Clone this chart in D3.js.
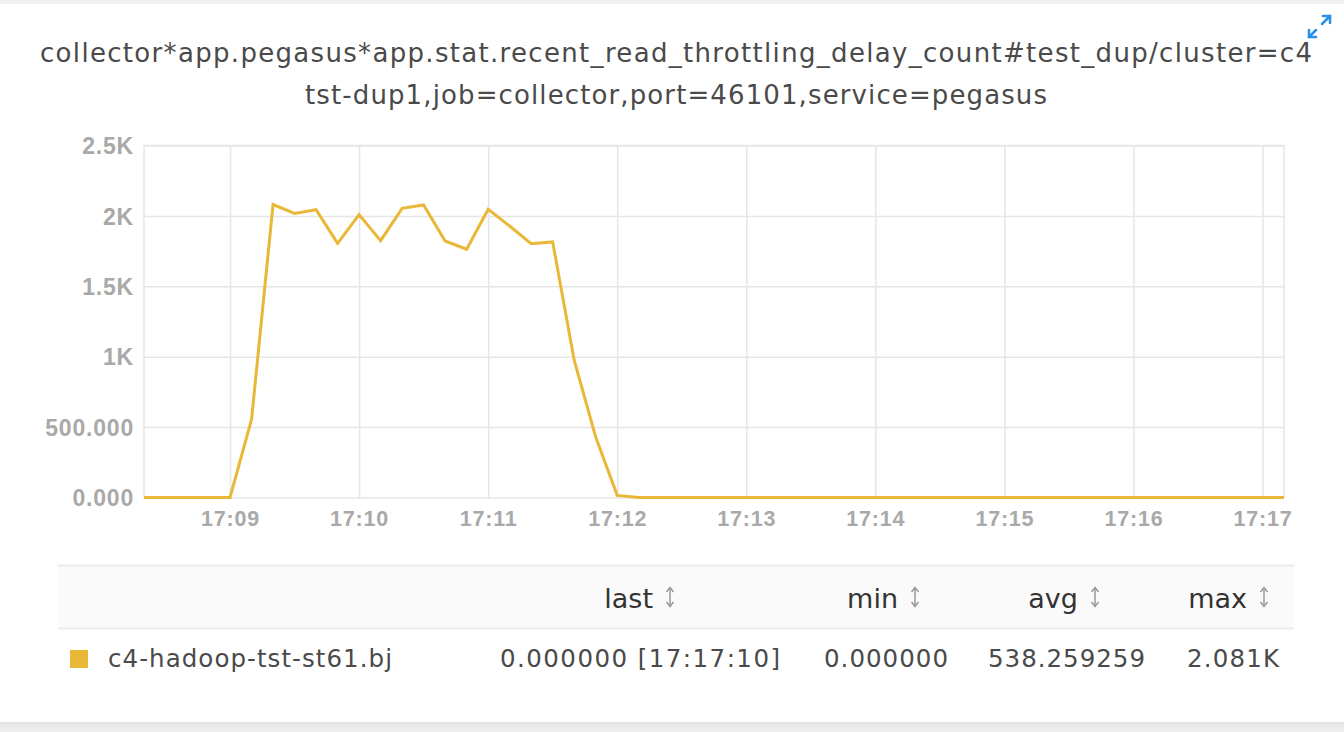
<!DOCTYPE html>
<html>
<head>
<meta charset="utf-8">
<script src="https://cdn.jsdelivr.net/npm/d3@7"></script>
<style>
  html, body { margin: 0; padding: 0; background: #f1f1f1; }
  svg { display: block; }
</style>
</head>
<body>
<svg id="chart" width="1344" height="732"></svg>
<script>
// Title lines
const titleLines = [
  'collector*app.pegasus*app.stat.recent_read_throttling_delay_count#test_dup/cluster=c4',
  'tst-dup1,job=collector,port=46101,service=pegasus'
];

// Series: one sample every 10 s, starting 17:08:20
const seriesName = 'c4-hadoop-tst-st61.bj';
const startTime = new Date(2018, 0, 1, 17, 8, 20);
const stepSeconds = 10;
const values = [
  0, 0, 0, 0, 0, 555, 2081, 2018, 2044, 1805,
  2009, 1824, 2054, 2078, 1822, 1763, 2047, 1928, 1803, 1815,
  975, 430, 15, 0, 0, 0, 0, 0, 0, 0,
  0, 0, 0, 0, 0, 0, 0, 0, 0, 0,
  0, 0, 0, 0, 0, 0, 0, 0, 0, 0,
  0, 0, 0, 0
];

// Y axis ticks and labels
const yTicks = [0, 500, 1000, 1500, 2000, 2500];
const yTickLabels = ['0.000', '500.000', '1K', '1.5K', '2K', '2.5K'];

// Legend table
const legendColumns = ['last', 'min', 'avg', 'max'];
const legendValues = ['0.000000 [17:17:10]', '0.000000', '538.259259', '2.081K'];

const lineColor = '#eab839';

const svg = d3.select('#chart');

// card background
svg.append('rect')
  .attr('x', 0).attr('y', 4)
  .attr('width', 1344).attr('height', 718)
  .attr('fill', '#fff');

const defs = svg.append('defs');
const grad = defs.append('linearGradient')
  .attr('id', 'shadow').attr('x1', 0).attr('y1', 0).attr('x2', 0).attr('y2', 1);
grad.append('stop').attr('offset', '0%').attr('stop-color', '#e4e4e4');
grad.append('stop').attr('offset', '100%').attr('stop-color', '#f1f1f1');
svg.append('rect')
  .attr('x', 0).attr('y', 722)
  .attr('width', 1344).attr('height', 10)
  .attr('fill', 'url(#shadow)');

// Title
svg.append('g')
  .selectAll('text')
  .data(titleLines)
  .join('text')
  .attr('x', 676)
  .attr('y', (d, i) => 62 + i * 42)
  .attr('text-anchor', 'middle')
  .attr('font-family', 'DejaVu Sans, Verdana, sans-serif')
  .attr('font-size', 26)
  .attr('fill', '#4a4a4a')
  .attr('textLength', (d, i) => i === 0 ? 1272 : 742)
  .text(d => d);

// Expand icon (top right)
const icon = svg.append('g')
  .attr('stroke', '#2b8fe8')
  .attr('stroke-width', 2.5)
  .attr('fill', 'none')
  .attr('stroke-linecap', 'round');
icon.append('line').attr('x1', 1309).attr('y1', 37).attr('x2', 1316).attr('y2', 30);
icon.append('line').attr('x1', 1322).attr('y1', 24).attr('x2', 1330).attr('y2', 16);
icon.append('path').attr('d', 'M1309,30 L1309,37 L1316,37');
icon.append('path').attr('d', 'M1323,16 L1330,16 L1330,23');

// Plot scales
const margin = { left: 144, right: 1284, top: 145.5, bottom: 497.5 };
const times = values.map((v, i) => new Date(startTime.getTime() + i * stepSeconds * 1000));

const x = d3.scaleTime()
  .domain([times[0], times[times.length - 1]])
  .range([margin.left, margin.right]);

const y = d3.scaleLinear()
  .domain([0, 2500])
  .range([margin.bottom, margin.top]);

const gridColor = '#e6e6e6';

// Horizontal grid + y labels
const yAxis = d3.axisLeft(y)
  .tickValues(yTicks)
  .tickSize(-(margin.right - margin.left))
  .tickPadding(10)
  .tickFormat((d, i) => yTickLabels[i]);

const gy = svg.append('g')
  .attr('transform', `translate(${margin.left},0)`)
  .call(yAxis);
gy.select('.domain').remove();
gy.selectAll('.tick line').attr('stroke', gridColor).attr('stroke-width', 1.5);
gy.selectAll('.tick text')
  .attr('font-family', 'Liberation Sans, Arial, sans-serif')
  .attr('font-weight', 'bold')
  .attr('font-size', 23)
  .attr('letter-spacing', 0.8)
  .attr('fill', '#a9a9a9')
  .attr('dy', '0.36em');

// Vertical grid + x labels
const xAxis = d3.axisBottom(x)
  .ticks(d3.timeMinute.every(1))
  .tickSize(-(margin.bottom - margin.top))
  .tickPadding(22)
  .tickFormat(d3.timeFormat('%H:%M'));

const gx = svg.append('g')
  .attr('transform', `translate(0,${margin.bottom})`)
  .call(xAxis);
gx.select('.domain').remove();
gx.selectAll('.tick line').attr('stroke', gridColor).attr('stroke-width', 1.5);
gx.selectAll('.tick text')
  .attr('font-family', 'Liberation Sans, Arial, sans-serif')
  .attr('font-weight', 'bold')
  .attr('font-size', 21.5)
  .attr('letter-spacing', 0.8)
  .attr('fill', '#a9a9a9')
  .attr('dy', '0.3em');

// Plot frame (left, top, right)
svg.append('path')
  .attr('d', `M${margin.left},${margin.bottom} V${margin.top} H${margin.right} V${margin.bottom}`)
  .attr('fill', 'none')
  .attr('stroke', gridColor)
  .attr('stroke-width', 1.5);

// Series line
const line = d3.line()
  .x((d, i) => x(times[i]))
  .y(d => y(d));

svg.append('path')
  .datum(values)
  .attr('d', line)
  .attr('fill', 'none')
  .attr('stroke', lineColor)
  .attr('stroke-width', 3)
  .attr('stroke-linejoin', 'miter');

// Legend table header
const header = svg.append('g');
header.append('rect')
  .attr('x', 58).attr('y', 565)
  .attr('width', 1236).attr('height', 63)
  .attr('fill', '#fafafa');
header.append('line')
  .attr('x1', 58).attr('x2', 1294).attr('y1', 565.5).attr('y2', 565.5)
  .attr('stroke', '#ececec').attr('stroke-width', 2);
header.append('line')
  .attr('x1', 58).attr('x2', 1294).attr('y1', 628.5).attr('y2', 628.5)
  .attr('stroke', '#ececec').attr('stroke-width', 2);

// column right edges (header text end, value end)
const headerEnds = [653, 898, 1078, 1247];
const valueEnds = [780, 948, 1145, 1279];
const valueWidths = [280, 124, 157, 92];

header.selectAll('text.col')
  .data(legendColumns)
  .join('text')
  .attr('class', 'col')
  .attr('x', (d, i) => headerEnds[i])
  .attr('y', 608)
  .attr('text-anchor', 'end')
  .attr('font-family', 'DejaVu Sans, Verdana, sans-serif')
  .attr('font-size', 27)
  .attr('fill', '#333')
  .text(d => d);

// sort arrows
const arrows = header.selectAll('g.arrow')
  .data(legendColumns)
  .join('g')
  .attr('class', 'arrow')
  .attr('transform', (d, i) => `translate(${headerEnds[i] + 17},597)`)
  .attr('stroke', '#999')
  .attr('fill', 'none')
  .attr('stroke-width', 1.5);
arrows.append('line').attr('x1', 0).attr('x2', 0).attr('y1', -9).attr('y2', 9);
arrows.append('path').attr('d', 'M-3.5,-5 L0,-9.5 L3.5,-5');
arrows.append('path').attr('d', 'M-3.5,5 L0,9.5 L3.5,5');

// Legend row
const row = svg.append('g');
row.append('rect')
  .attr('x', 70).attr('y', 650)
  .attr('width', 18).attr('height', 18)
  .attr('fill', lineColor);
row.append('text')
  .attr('x', 108).attr('y', 667)
  .attr('font-family', 'DejaVu Sans, Verdana, sans-serif')
  .attr('font-size', 24.5)
  .attr('fill', '#4a4a4a')
  .attr('textLength', 284)
  .text(seriesName);

row.selectAll('text.val')
  .data(legendValues)
  .join('text')
  .attr('class', 'val')
  .attr('x', (d, i) => valueEnds[i] - valueWidths[i])
  .attr('y', 667)
  .attr('font-family', 'DejaVu Sans, Verdana, sans-serif')
  .attr('font-size', 24.5)
  .attr('fill', '#4a4a4a')
  .attr('textLength', (d, i) => valueWidths[i])
  .text(d => d);
</script>
</body>
</html>
